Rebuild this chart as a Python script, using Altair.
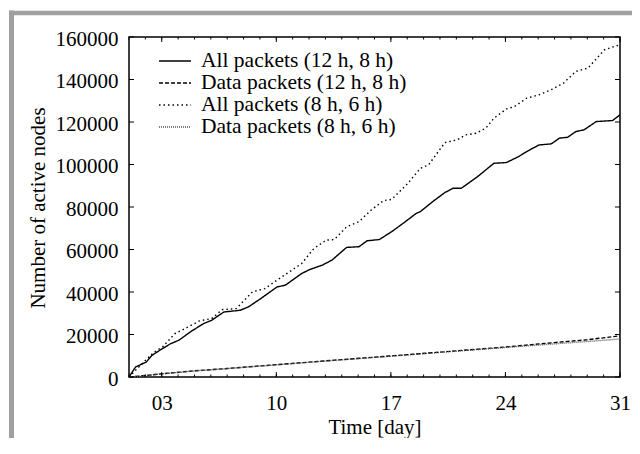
import altair as alt
import pandas as pd

# ---------------- data ----------------
series_names = [
    "All packets (12 h, 8 h)",
    "Data packets (12 h, 8 h)",
    "All packets (8 h, 6 h)",
    "Data packets (8 h, 6 h)",
]

days_all_12 = [1, 1.4, 2.05, 2.4, 3.05, 3.55, 4.05, 4.8, 5.55, 6.05, 6.8, 7.8, 8.3, 9.05,
               10.05, 10.55, 11.55, 12.05, 12.8, 13.4, 14.3, 15.05, 15.55, 16.3, 17.05,
               17.8, 18.55, 18.8, 19.55, 20.3, 20.8, 21.3, 22.3, 23.3, 24.05, 24.8, 25.3,
               26.05, 26.8, 27.3, 27.8, 28.3, 28.8, 29.55, 30.55, 31]
vals_all_12 = [0, 4700, 7000, 10200, 13400, 15700, 17300, 21500, 25100, 26700, 30600, 31400,
               33000, 36900, 42400, 43200, 48700, 50600, 52600, 55000, 61000, 61300, 64100,
               64700, 68400, 72600, 77000, 77800, 82500, 86800, 88800, 88800, 94300, 100600,
               100900, 103700, 106100, 109200, 109700, 112400, 112800, 115500, 116300,
               120200, 120700, 123400]

days_data_12 = [1, 2, 3, 5, 7, 10, 13, 17, 20, 24, 27, 29, 31]
vals_data_12 = [0, 700, 1500, 2900, 4000, 5800, 7600, 9900, 11700, 14100, 16200, 17500, 19400]

days_all_8 = [1, 2.05, 2.55, 3.05, 3.8, 4.55, 5.3, 6.05, 6.7, 7.55, 8.55, 9.3, 10.05, 10.8,
              11.55, 12.3, 13.05, 13.55, 14.3, 15.05, 15.8, 16.55, 17.05, 18.05, 18.8, 19.3,
              20.3, 21.05, 21.55, 22.2, 22.8, 23.3, 24.05, 24.55, 25.3, 26.05, 26.8, 27.55,
              28.3, 29.05, 30.05, 31]
vals_all_8 = [0, 8200, 11800, 14100, 20400, 23300, 26400, 27500, 31700, 32200, 40100, 41600,
              45600, 49500, 53400, 60500, 64400, 64700, 70700, 73100, 78600, 83000, 83600,
              91200, 98200, 99800, 110300, 111600, 113900, 114700, 117100, 121800, 126100,
              127300, 131200, 132800, 135200, 138300, 143800, 145400, 154000, 156400]

days_data_8 = [1, 2, 3, 5, 7, 10, 13, 17, 20, 24, 27, 29, 31]
vals_data_8 = [0, 650, 1450, 2850, 3950, 5700, 7500, 9800, 11600, 13900, 15600, 16700, 17900]

x_label_days = [3, 10, 17, 24, 31]
x_minor_days = list(range(1, 32))
y_tick_values = [0, 20000, 40000, 60000, 80000, 100000, 120000, 140000, 160000]

# ---------------- build table ----------------
rows = []
for name, ds, vs in zip(series_names,
                        [days_all_12, days_data_12, days_all_8, days_data_8],
                        [vals_all_12, vals_data_12, vals_all_8, vals_data_8]):
    for d, v in zip(ds, vs):
        rows.append({"series": name, "day": d, "nodes": v})
df = pd.DataFrame(rows)

FONT = "Liberation Serif"
FS = 21
W, H = 491, 340

x_scale = alt.Scale(domain=[1, 31], nice=False, zero=False)
y_scale = alt.Scale(domain=[0, 160000], nice=False)

x_axis = alt.Axis(values=x_label_days, format="02d", title="Time [day]",
                  ticks=False, tickSize=0, domain=False, grid=False,
                  labelFlush=False, labelOverlap=False,
                  labelBaseline="alphabetic", labelPadding=32,
                  titleX=245.5, titleY=56, titleBaseline="alphabetic",
                  titleAlign="center")
y_axis = alt.Axis(values=y_tick_values, format="d", title="Number of active nodes",
                  ticks=False, tickSize=0, domain=False, grid=False,
                  labelFlush=False, labelOverlap=False,
                  labelPadding=11, labelOffset=2,
                  titleAngle=270, titleX=-85, titleY=170.5,
                  titleBaseline="alphabetic", titleAlign="center")

legend = alt.Legend(
    title=None, orient="none", legendX=29, legendY=14, padding=0,
    symbolType="stroke", symbolSize=1024, symbolStrokeWidth=1.4,
    labelFont=FONT, labelFontSize=21.5, labelColor="black", labelOffset=9,
    labelLimit=400, rowPadding=0, clipHeight=20,
)

lines = alt.Chart(df).mark_line(strokeWidth=1.4).encode(
    x=alt.X("day:Q", scale=x_scale, axis=x_axis),
    y=alt.Y("nodes:Q", scale=y_scale, axis=y_axis),
    color=alt.Color("series:N",
                    scale=alt.Scale(domain=series_names,
                                    range=["black", "black", "black", "#555555"]),
                    legend=legend),
    strokeDash=alt.StrokeDash("series:N",
                              scale=alt.Scale(domain=series_names,
                                              range=[[1, 0], [4, 2], [1.5, 3], [1, 1]]),
                              legend=legend),
)

# decorative grey page frame (left and top bands)
frame_df = pd.DataFrame({"f": [0]})
frame_left = alt.Chart(frame_df).mark_rule(color="#a0a0a0", strokeWidth=5).encode(
    x=alt.value(-117.5), y=alt.value(-26.5), y2=alt.value(402))
frame_top = alt.Chart(frame_df).mark_rule(color="#a0a0a0", strokeWidth=4.5).encode(
    y=alt.value(-24), x=alt.value(-120), x2=alt.value(504))

minor_df = pd.DataFrame({"day": x_minor_days})
major_df = pd.DataFrame({"day": x_label_days})
ytick_df = pd.DataFrame({"v": y_tick_values})


def xticks(data, y0, y1):
    return alt.Chart(data).mark_rule(color="black", strokeWidth=1).encode(
        x=alt.X("day:Q", scale=x_scale, axis=x_axis),
        y=alt.value(y0), y2=alt.value(y1))


def yticks(x0, x1):
    return alt.Chart(ytick_df).mark_rule(color="black", strokeWidth=1).encode(
        y=alt.Y("v:Q", scale=y_scale, axis=y_axis),
        x=alt.value(x0), x2=alt.value(x1))


chart = alt.layer(
    lines,
    frame_left,
    frame_top,
    xticks(minor_df, H, H - 2.5),
    xticks(minor_df, 0, 2.5),
    xticks(major_df, H, H - 5),
    xticks(major_df, 0, 5),
    yticks(0, 5),
    yticks(W, W - 5),
).properties(
    width=W, height=H,
    autosize=alt.AutoSizeParams(type="none"),
    padding={"left": 121, "top": 29, "right": 12, "bottom": 61},
    background="white",
).configure_view(
    stroke="black", strokeWidth=1.5
).configure_axis(
    labelFont=FONT, labelFontSize=FS, labelColor="black",
    titleFont=FONT, titleFontSize=FS, titleColor="black", titleFontWeight="normal",
)

chart.save("out.html", embed_options={"renderer": "svg", "actions": False})
